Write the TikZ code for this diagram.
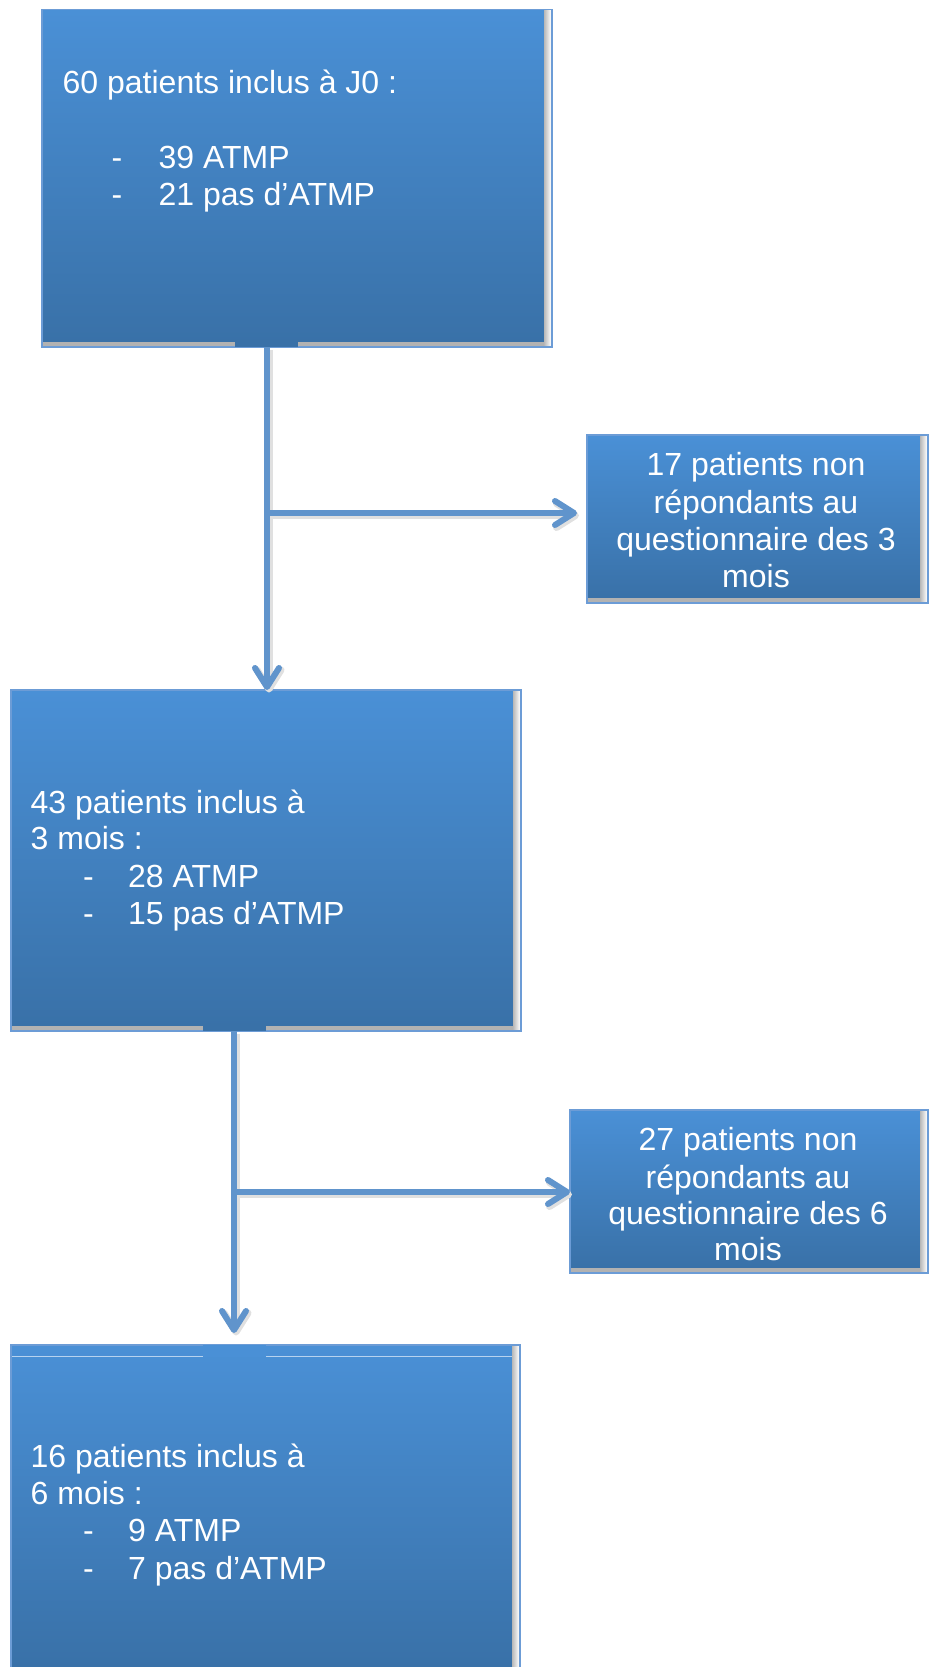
\documentclass[tikz,border=0pt]{standalone}
\usepackage{fontspec}
\setmainfont{Liberation Sans}
\usetikzlibrary{arrows.meta}
\definecolor{ftop}{RGB}{74,144,214}
\definecolor{fbot}{RGB}{57,113,168}
\definecolor{bordc}{RGB}{108,156,214}
\definecolor{connc}{RGB}{96,148,204}
\tikzset{
  boxnode/.style={draw=bordc, line width=1.5pt, fill=white, inner sep=0pt, outer sep=0pt, rectangle},
  txt/.style={text=white, inner sep=0pt, font=\fontsize{32}{37}\selectfont},
  ltxt/.style={txt, anchor=base west},
  ctxt/.style={txt, anchor=base},
  conn/.style={draw=connc, line width=6pt},
  connshadow/.style={draw=black!12, line width=7pt, transform canvas={shift={(2pt,-2.5pt)}}},
  tip/.style={-{Straight Barb[length=19pt,width=24pt,line cap=round,line join=round]}},
}
\newcommand{\boxinner}[1]{%
  \shade[top color=ftop, bottom color=fbot] ([shift={(1pt,-1pt)}]#1.north west) rectangle ([shift={(-8pt,5pt)}]#1.south east);
  \shade[left color=black!28, right color=white] ([shift={(-8pt,-1pt)}]#1.north east) rectangle ([shift={(-1pt,1pt)}]#1.south east);
  \fill[black!30] ([shift={(1pt,5pt)}]#1.south west) rectangle ([shift={(-8pt,1pt)}]#1.south east);
  \draw[bordc, line width=1.5pt] (#1.north west) rectangle (#1.south east);
}
\newcommand{\dashline}[1]{\makebox[#1][l]{-}}
\begin{document}
\begin{tikzpicture}[x=1pt,y=1pt]
\clip (0,0) rectangle (930,-1667);
% boxes
\node[boxnode, minimum width=510pt, minimum height=337.5pt] (b1) at (297,-178.25) {};
\node[boxnode, minimum width=341pt, minimum height=168pt] (s1) at (757.5,-519) {};
\node[boxnode, minimum width=510pt, minimum height=341pt] (b2) at (266,-860.5) {};
\node[boxnode, minimum width=358pt, minimum height=163pt] (s2) at (749,-1191.5) {};
\node[boxnode, minimum width=509pt, minimum height=327pt] (b3) at (265.5,-1508.5) {};
\boxinner{b1}
\boxinner{s1}
\boxinner{b2}
\boxinner{s2}
\boxinner{b3}
% small tabs
\fill[fbot] (235,-340) rectangle (298,-346.5);
\fill[fbot] (203,-1024) rectangle (266,-1030.5);
\fill[ftop] (203,-1344.5) rectangle (266,-1357);
\draw[white!60!ftop, line width=0.8pt] (12,-1356.5) -- (203,-1356.5) (266,-1356.5) -- (512,-1356.5);
% texts box 1
\node[ltxt] (t1a) at (62.5,-94) {60 patients inclus à J0 :};
\node[ltxt] (t1b) at (111.5,-168) {\dashline{47pt}39 ATMP};
\node[ltxt] (t1c) at (111.5,-205.5) {\dashline{47pt}21 pas d’ATMP};
% small box 1
\node[ctxt] (u1a) at (756,-475) {17 patients non};
\node[ctxt] (u1b) at (756,-513) {répondants au};
\node[ctxt] (u1c) at (756,-550) {questionnaire des 3};
\node[ctxt] (u1d) at (756,-587) {mois};
% box 2
\node[ltxt] (t2a) at (30.5,-813.5) {43 patients inclus à};
\node[ltxt] (t2b) at (30.5,-849) {3 mois :};
\node[ltxt] (t2c) at (83,-887) {\dashline{45pt}28 ATMP};
\node[ltxt] (t2d) at (83,-924) {\dashline{45pt}15 pas d’ATMP};
% small box 2
\node[ctxt] (u2a) at (748,-1150) {27 patients non};
\node[ctxt] (u2b) at (748,-1188) {répondants au};
\node[ctxt] (u2c) at (748,-1224) {questionnaire des 6};
\begin{scope}
\clip (560,-1100) rectangle (930,-1262);
\node[ctxt] (u2d) at (748,-1260) {mois};
\end{scope}
% box 3
\node[ltxt] (t3a) at (30.5,-1467) {16 patients inclus à};
\node[ltxt] (t3b) at (30.5,-1504) {6 mois :};
\node[ltxt] (t3c) at (83,-1541.5) {\dashline{45pt}9 ATMP};
\node[ltxt] (t3d) at (83,-1579.5) {\dashline{45pt}7 pas d’ATMP};
% connectors
\coordinate (j1) at (267,-513);
\coordinate (j2) at (234,-1192);
\draw[connshadow, tip] (b1.south -| j1) -- (b2.north -| j1);
\draw[connshadow, tip, shorten >=10pt] (j1) -- (j1 -| s1.west);
\draw[connshadow, tip, shorten >=12pt] (b2.south -| j2) -- (b3.north -| j2);
\draw[connshadow, tip] (j2) -- (j2 -| s2.west);
\draw[conn, tip] (b1.south -| j1) -- (b2.north -| j1);
\draw[conn, tip, shorten >=10pt] (j1) -- (j1 -| s1.west);
\draw[conn, tip, shorten >=12pt] (b2.south -| j2) -- (b3.north -| j2);
\draw[conn, tip] (j2) -- (j2 -| s2.west);
\end{tikzpicture}
\end{document}
